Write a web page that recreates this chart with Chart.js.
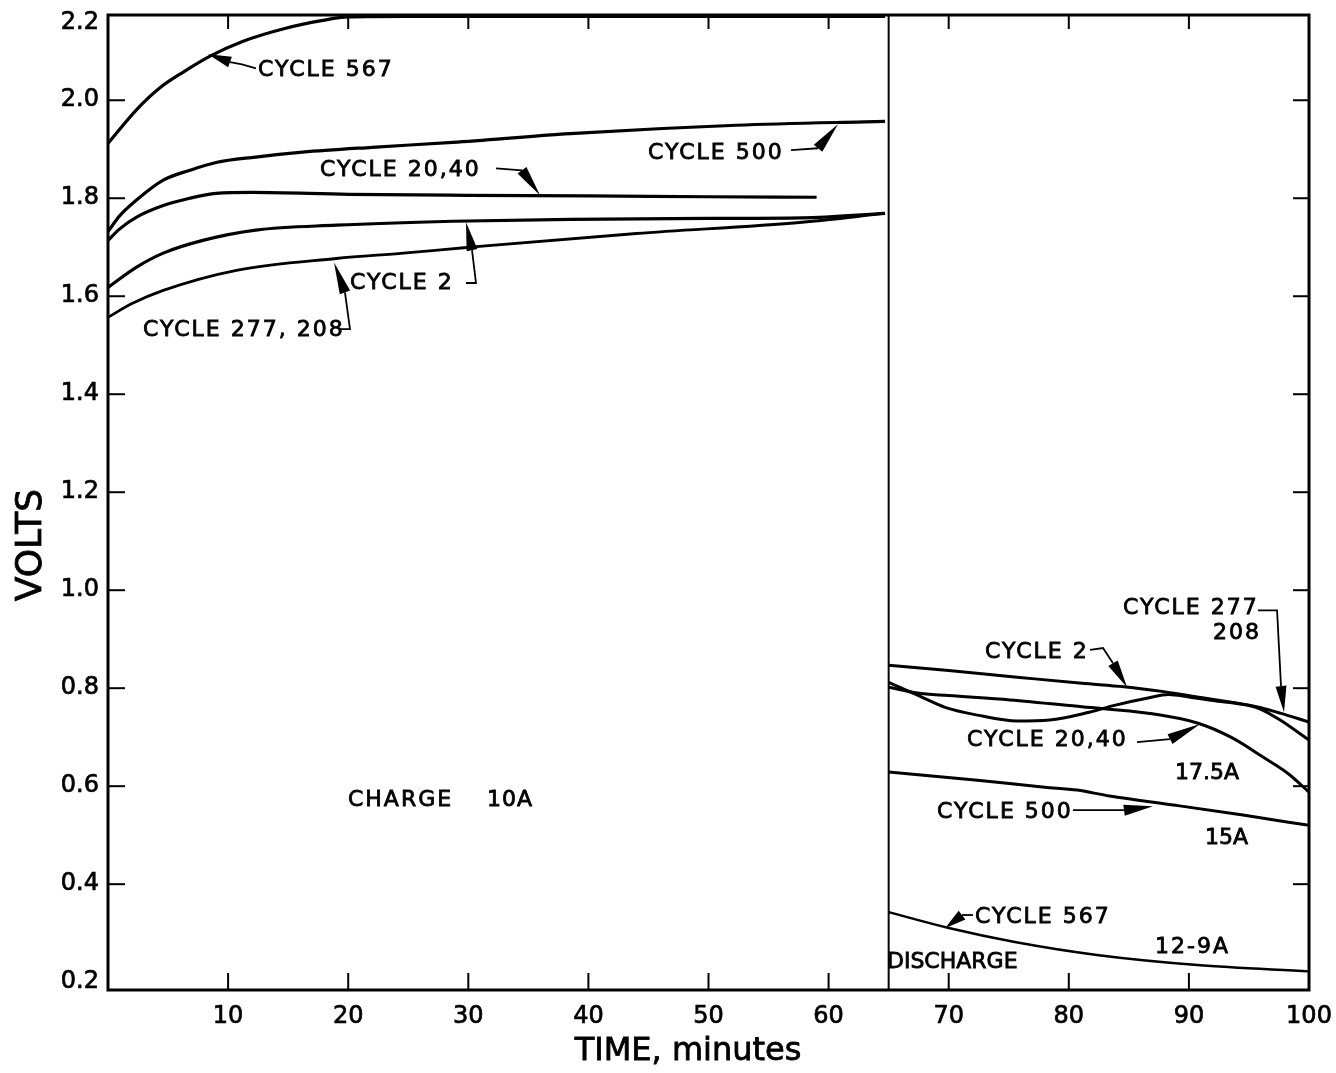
<!DOCTYPE html>
<html><head><meta charset="utf-8">
<script src="https://cdn.jsdelivr.net/npm/chart.js@4.4.1/dist/chart.umd.min.js"></script>
<style>html,body{margin:0;padding:0;background:#fff;overflow:hidden}</style>
</head><body>
<canvas id="c" width="1336" height="1073"></canvas>
<script>
// ---------- data (time in minutes, volts) ----------
const yTickValues = [0.2, 0.4, 0.6, 0.8, 1.0, 1.2, 1.4, 1.6, 1.8, 2.0];
const yTopLabel = '2.2';
const xTickValues = [10, 20, 30, 40, 50, 60, 70, 80, 90, 100];
const chargeEndTime = 65;

// charge (10A)
const c567ChargeTime  = [0, 2.35, 4.3, 6.3, 8.5, 11.2, 14.8, 17.9, 20, 25, 35, 45, 55, 64.7];
const c567ChargeVolts = [1.912, 1.98, 2.025, 2.058, 2.090, 2.120, 2.147, 2.163, 2.170, 2.171, 2.171, 2.171, 2.171, 2.171];
const c500ChargeTime  = [0, 1, 2.35, 4.6, 6.8, 9, 12.3, 16.2, 22, 28.7, 38.5, 52.3, 64.7];
const c500ChargeVolts = [1.732, 1.765, 1.796, 1.837, 1.857, 1.873, 1.884, 1.894, 1.904, 1.914, 1.932, 1.949, 1.957];
const c2040ChargeTime  = [0, 1, 2.35, 4.6, 6.8, 9, 12, 20, 30, 40, 50, 59];
const c2040ChargeVolts = [1.714, 1.738, 1.761, 1.785, 1.800, 1.810, 1.812, 1.808, 1.806, 1.805, 1.803, 1.802];
const c2ChargeTime  = [0, 2.35, 4.6, 7.9, 12.3, 19, 28.7, 38.5, 50, 57.8, 64.7];
const c2ChargeVolts = [1.618, 1.659, 1.688, 1.714, 1.735, 1.745, 1.753, 1.757, 1.759, 1.760, 1.769];
const c277ChargeTime  = [0, 2, 4.6, 10.7, 19, 24.6, 30.1, 44, 57.8, 64.7];
const c277ChargeVolts = [1.557, 1.585, 1.612, 1.653, 1.677, 1.688, 1.700, 1.728, 1.751, 1.769];

// discharge
const c2DischargeTime  = [65, 70, 75.9, 81.1, 84.6, 87.9, 91, 94.9, 96, 97.6, 100];
const c2DischargeVolts = [0.847, 0.836, 0.822, 0.810, 0.803, 0.793, 0.781, 0.766, 0.760, 0.749, 0.731];
const c277DischargeTime  = [65, 67.4, 69.7, 72.4, 75.7, 78.4, 81.7, 83.8, 86.6, 88.3, 90, 92, 94.9, 96, 97.6, 100];
const c277DischargeVolts = [0.812, 0.786, 0.761, 0.745, 0.733, 0.735, 0.751, 0.765, 0.780, 0.787, 0.782, 0.775, 0.765, 0.757, 0.735, 0.694];
const c2040DischargeTime  = [65, 67.4, 70, 75.1, 81.1, 86.6, 90.7, 93.5, 96.2, 98.2, 100];
const c2040DischargeVolts = [0.802, 0.790, 0.785, 0.776, 0.762, 0.749, 0.729, 0.700, 0.659, 0.627, 0.588];
const c500DischargeTime  = [65, 72.4, 78, 80.7, 83.4, 88.9, 94.5, 100];
const c500DischargeVolts = [0.629, 0.612, 0.598, 0.592, 0.580, 0.561, 0.541, 0.520];
const c567DischargeTime  = [65, 70.1, 75.5, 82.5, 90.7, 100];
const c567DischargeVolts = [0.343, 0.310, 0.282, 0.255, 0.235, 0.222];

// ---------- annotations (data coordinates) ----------
const noteTexts = [
  {text: 'CYCLE 567', t: 12.49, v: 2.061},
  {text: 'CYCLE 500', t: 44.96, v: 1.892},
  {text: 'CYCLE 20,40', t: 17.65, v: 1.857},
  {text: 'CYCLE 2', t: 20.15, v: 1.627},
  {text: 'CYCLE 277, 208', t: 2.91, v: 1.531},
  {text: 'CHARGE', t: 19.98, v: 0.571},
  {text: '10A', t: 31.56, v: 0.571, ls: 1},
  {text: 'CYCLE 2', t: 73.02, v: 0.873},
  {text: 'CYCLE 277', t: 84.51, v: 0.963},
  {text: '208', t: 92.01, v: 0.912},
  {text: 'CYCLE 20,40', t: 71.52, v: 0.694},
  {text: '17.5A', t: 88.84, v: 0.627, ls: 0},
  {text: 'CYCLE 500', t: 69.03, v: 0.547},
  {text: '15A', t: 91.34, v: 0.494, ls: 0},
  {text: 'CYCLE 567', t: 72.19, v: 0.333},
  {text: '12-9A', t: 87.18, v: 0.271},
  {text: 'DISCHARGE', t: 64.86, v: 0.241, ls: 0}
];
const noteArrows = [
  {path: [[12.32, 2.065], [11.16, 2.073], [10.16, 2.078]], tip: [8.33, 2.094]},
  {path: [[56.87, 1.898], [59.12, 1.902]], tip: [60.78, 1.951]},
  {path: [[32.31, 1.861], [34.47, 1.857]], tip: [35.97, 1.806]},
  {path: [[29.81, 1.627], [30.64, 1.627], [30.31, 1.694]], tip: [29.81, 1.751]},
  {path: [[19.23, 1.533], [20.15, 1.533], [19.73, 1.608]], tip: [18.82, 1.669]},
  {path: [[81.77, 0.878], [82.85, 0.882], [83.68, 0.851]], tip: [84.85, 0.802]},
  {path: [[95.75, 0.959], [97.34, 0.959], [97.67, 0.804]], tip: [97.92, 0.751]},
  {path: [[85.68, 0.690], [88.43, 0.696]], tip: [90.93, 0.727]},
  {path: [[80.35, 0.551], [84.60, 0.551]], tip: [87.01, 0.559]},
  {path: [[72.02, 0.337], [71.11, 0.337]], tip: [69.69, 0.310]}
];

function pts(ts, vs) { return ts.map((t, i) => ({x: t, y: vs[i]})); }
function line(label, ts, vs, w) {
  return {label, data: pts(ts, vs), borderColor: '#000', borderWidth: w || 3.2,
          pointRadius: 0, fill: false, cubicInterpolationMode: 'monotone'};
}

const FONT = '"DejaVu Sans", sans-serif';

function boldText(ctx, s, x, y, w) {
  ctx.fillText(s, x, y);
  ctx.lineWidth = w;
  ctx.strokeText(s, x, y);
}

const decor = {
  id: 'decor',
  afterDatasetsDraw(chart) {
    const ctx = chart.ctx, a = chart.chartArea;
    const xs = chart.scales.x, ys = chart.scales.y;
    ctx.save();
    ctx.strokeStyle = '#000';
    ctx.fillStyle = '#000';
    // frame
    ctx.lineWidth = 3;
    ctx.strokeRect(a.left, a.top, a.right - a.left, a.bottom - a.top);
    // divider between charge and discharge
    ctx.lineWidth = 2;
    const dx = xs.getPixelForValue(chargeEndTime);
    ctx.beginPath(); ctx.moveTo(dx, a.top); ctx.lineTo(dx, a.bottom); ctx.stroke();
    // inward ticks
    ctx.lineWidth = 2;
    yTickValues.forEach(v => {
      if (v < 0.3) return;
      const y = ys.getPixelForValue(v);
      ctx.beginPath(); ctx.moveTo(a.left, y); ctx.lineTo(a.left + 17, y); ctx.stroke();
      ctx.beginPath(); ctx.moveTo(a.right, y); ctx.lineTo(a.right - 16, y); ctx.stroke();
    });
    xTickValues.forEach(t => {
      if (t >= 100) return;
      const x = xs.getPixelForValue(t);
      ctx.beginPath(); ctx.moveTo(x, a.bottom); ctx.lineTo(x, a.bottom - 17); ctx.stroke();
      ctx.beginPath(); ctx.moveTo(x, a.top); ctx.lineTo(x, a.top + 14); ctx.stroke();
    });
    // arrows
    noteArrows.forEach(ar => {
      const p = ar.path.map(q => [xs.getPixelForValue(q[0]), ys.getPixelForValue(q[1])]);
      const tip = [xs.getPixelForValue(ar.tip[0]), ys.getPixelForValue(ar.tip[1])];
      ctx.lineWidth = 1.8;
      ctx.beginPath(); ctx.moveTo(p[0][0], p[0][1]);
      for (let i = 1; i < p.length; i++) ctx.lineTo(p[i][0], p[i][1]);
      ctx.stroke();
      const b = p[p.length - 1];
      const ux = tip[0] - b[0], uy = tip[1] - b[1];
      const L = Math.hypot(ux, uy) || 1;
      const nx = -uy / L * 5.5, ny = ux / L * 5.5;
      ctx.beginPath();
      ctx.moveTo(tip[0], tip[1]);
      ctx.lineTo(b[0] + nx, b[1] + ny);
      ctx.lineTo(b[0] - nx, b[1] - ny);
      ctx.closePath(); ctx.fill();
    });
    // texts
    ctx.font = '22px ' + FONT;
    ctx.textBaseline = 'middle';
    ctx.textAlign = 'left';
    noteTexts.forEach(n => {
      ctx.letterSpacing = (n.ls === undefined ? 2 : n.ls) + 'px';
      boldText(ctx, n.text, xs.getPixelForValue(n.t), ys.getPixelForValue(n.v), 0.8);
    });
    ctx.letterSpacing = '0px';
    // axis titles
    ctx.textAlign = 'center';
    ctx.font = '32px ' + FONT;
    boldText(ctx, 'TIME, minutes', xs.getPixelForValue(48.3), a.bottom + 62, 0.8);
    ctx.save();
    ctx.translate(a.left - 76, ys.getPixelForValue(1.092));
    ctx.rotate(-Math.PI / 2);
    ctx.font = '36px ' + FONT;
    boldText(ctx, 'VOLTS', 0, 0, 0.8);
    ctx.restore();
    ctx.restore();
  }
};

function noPad(s) { s.paddingTop = 0; s.paddingBottom = 0; s.paddingLeft = 0; s.paddingRight = 0; }

new Chart(document.getElementById('c'), {
  type: 'line',
  data: {
    datasets: [
      line('Cycle 567 charge', c567ChargeTime, c567ChargeVolts),
      line('Cycle 500 charge', c500ChargeTime, c500ChargeVolts),
      line('Cycle 20,40 charge', c2040ChargeTime, c2040ChargeVolts),
      line('Cycle 2 charge', c2ChargeTime, c2ChargeVolts),
      line('Cycle 277,208 charge', c277ChargeTime, c277ChargeVolts, 2.8),
      line('Cycle 2 discharge', c2DischargeTime, c2DischargeVolts, 3),
      line('Cycle 277,208 discharge', c277DischargeTime, c277DischargeVolts, 3),
      line('Cycle 20,40 discharge', c2040DischargeTime, c2040DischargeVolts, 3),
      line('Cycle 500 discharge', c500DischargeTime, c500DischargeVolts, 3),
      line('Cycle 567 discharge', c567DischargeTime, c567DischargeVolts, 2.4)
    ]
  },
  options: {
    responsive: false,
    animation: false,
    devicePixelRatio: 1,
    layout: {padding: {top: 15, right: 27, left: 0, bottom: 0}},
    plugins: {legend: {display: false}, tooltip: {enabled: false}},
    scales: {
      x: {
        type: 'linear', min: 0, max: 100,
        grid: {display: false, drawTicks: false},
        border: {display: false},
        afterBuildTicks: s => { s.ticks = xTickValues.map(v => ({value: v})); },
        afterFit: s => { s.height = 83; noPad(s); },
        ticks: {autoSkip: false, maxRotation: 0, padding: 12, color: '#000',
                textStrokeColor: '#000', textStrokeWidth: 0.7,
                font: {family: FONT, size: 24}, callback: v => String(v)}
      },
      y: {
        type: 'linear', min: 0.184, max: 2.174,
        grid: {display: false, drawTicks: false},
        border: {display: false},
        afterBuildTicks: s => { s.ticks = yTickValues.map(v => ({value: v})).concat([{value: s.max - 0.016}]); },
        afterFit: s => { s.width = 108; noPad(s); },
        ticks: {autoSkip: false, padding: 9, color: '#000',
                textStrokeColor: '#000', textStrokeWidth: 0.7,
                font: {family: FONT, size: 24},
                callback: v => (v > 2.1 ? yTopLabel : Number(v).toFixed(1))}
      }
    }
  },
  plugins: [decor]
});
</script>
</body></html>
